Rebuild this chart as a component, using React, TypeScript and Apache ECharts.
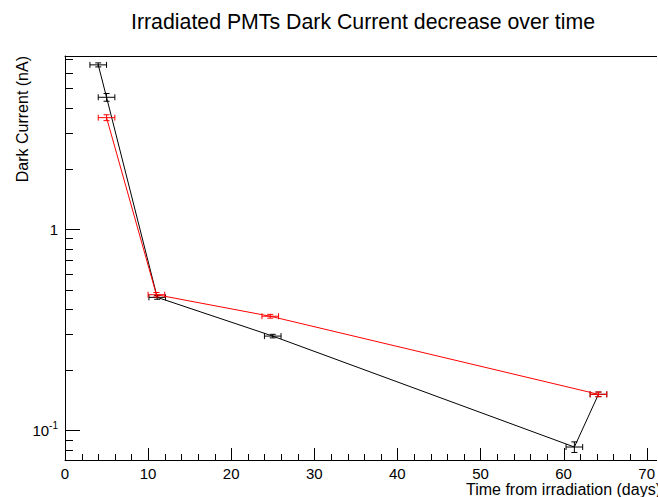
import React, { useEffect, useRef } from "react";
import * as echarts from "echarts";

// ---- data ----
const chartTitle = "Irradiated PMTs Dark Current decrease over time";
const xTitle = "Time from irradiation (days)";
const yTitle = "Dark Current (nA)";

// black series: [day, nA]
const blackX = [4.0, 5.0, 11.1, 25.0, 61.3, 64.2];
const blackY = [6.55, 4.52, 0.458, 0.294, 0.0826, 0.151];
const blackXErr = [1.0, 1.0, 1.0, 1.0, 1.0, 1.0];
const blackYErr = [0.15, 0.2, 0.01, 0.006, 0.005, 0.004];

// red series
const redX = [5.0, 11.0, 24.7, 64.2];
const redY = [3.58, 0.472, 0.369, 0.151];
const redXErr = [1.0, 1.0, 1.0, 1.0];
const redYErr = [0.12, 0.012, 0.008, 0.004];

// axes
const xMin = 0;
const xMax = 71.2;
const xMajorTicks = [0, 10, 20, 30, 40, 50, 60, 70];
const xMinorTicks = [2, 4, 6, 8, 12, 14, 16, 18, 22, 24, 26, 28, 32, 34, 36, 38, 42, 44, 46, 48, 52, 54, 56, 58, 62, 64, 66, 68];
const yMin = 0.0712;
const yMax = 7.25;
const yMajorTicks = [0.1, 1];
const yMinorTicks = [0.08, 0.09, 0.2, 0.3, 0.4, 0.5, 0.6, 0.7, 0.8, 0.9, 2, 3, 4, 5, 6, 7];

const FONT = "Liberation Sans, Arial, Helvetica, sans-serif";

function errorBars(color: string, xs: number[], ys: number[], xe: number[], ye: number[], z: number) {
  return {
    type: "custom",
    xAxisIndex: 0,
    yAxisIndex: 0,
    z,
    silent: true,
    clip: false,
    data: xs.map((x, i) => [x, ys[i], xe[i], ye[i]]),
    encode: { x: 0, y: 1 },
    renderItem: (params: any, api: any) => {
      const x = api.value(0);
      const y = api.value(1);
      const ex = api.value(2);
      const ey = api.value(3);
      const l = api.coord([x - ex, y]);
      const r = api.coord([x + ex, y]);
      const t = api.coord([x, y + ey]);
      const b = api.coord([x, y - ey]);
      const cap = 3;
      const st = { stroke: color, lineWidth: 1 };
      return {
        type: "group",
        children: [
          { type: "line", shape: { x1: l[0], y1: l[1], x2: r[0], y2: r[1] }, style: st },
          { type: "line", shape: { x1: l[0], y1: l[1] - cap, x2: l[0], y2: l[1] + cap }, style: st },
          { type: "line", shape: { x1: r[0], y1: r[1] - cap, x2: r[0], y2: r[1] + cap }, style: st },
          { type: "line", shape: { x1: t[0], y1: t[1], x2: b[0], y2: b[1] }, style: st },
          { type: "line", shape: { x1: t[0] - cap, y1: t[1], x2: t[0] + cap, y2: t[1] }, style: st },
          { type: "line", shape: { x1: b[0] - cap, y1: b[1], x2: b[0] + cap, y2: b[1] }, style: st },
        ],
      };
    },
  };
}

// inward ticks (ROOT style), placed through the axes' own scales
function tickSeries(dir: "x" | "y", values: number[], len: number) {
  return {
    type: "custom",
    xAxisIndex: 0,
    yAxisIndex: 0,
    z: 10,
    silent: true,
    clip: false,
    data: values.map((v) => (dir === "x" ? [v, yMin, len] : [xMin, v, len])),
    encode: { x: 0, y: 1 },
    renderItem: (params: any, api: any) => {
      const x = api.value(0);
      const y = api.value(1);
      const L = api.value(2);
      const p = api.coord([x, y]);
      const st = { stroke: "#000", lineWidth: 1 };
      const px = Math.round(p[0]) + 0.5;
      const py = Math.round(p[1]) + 0.5;
      const shape =
        dir === "x"
          ? { x1: px, y1: p[1], x2: px, y2: p[1] - L }
          : { x1: p[0], y1: py, x2: p[0] + L, y2: py };
      return { type: "group", children: [{ type: "line", shape, style: st }] };
    },
  };
}

export default function App() {
  const ref = useRef<HTMLDivElement>(null);
  useEffect(() => {
    if (!ref.current) return;
    const chart = echarts.init(ref.current, null, { renderer: "svg" });
    const option: any = {
      animation: false,
      backgroundColor: "#ffffff",
      textStyle: { fontFamily: FONT },
      grid: {
        left: 65,
        right: -2,
        top: 56,
        bottom: 37,
        show: false,
        containLabel: false,
      },
      xAxis: [
        {
          type: "value",
          min: xMin,
          max: xMax,
          axisLine: { show: true, onZero: false, lineStyle: { color: "#000", width: 1 } },
          axisTick: { show: false },
          axisLabel: {
            show: true,
            customValues: xMajorTicks,
            fontFamily: FONT,
            fontSize: 15,
            color: "#000",
            margin: 6,
          },
          splitLine: { show: false },
        },
        {
          type: "value",
          min: xMin,
          max: xMax,
          position: "top",
          axisLine: { show: true, onZero: false, lineStyle: { color: "#000", width: 1 } },
          axisTick: { show: false },
          axisLabel: { show: false },
          splitLine: { show: false },
        },
      ],
      yAxis: [
        {
          type: "log",
          logBase: 10,
          min: yMin,
          max: yMax,
          axisLine: { show: true, onZero: false, lineStyle: { color: "#000", width: 1 } },
          axisTick: { show: false },
          axisLabel: {
            show: true,
            showMinLabel: false,
            showMaxLabel: false,
            margin: 7,
            fontFamily: FONT,
            fontSize: 15,
            color: "#000",
            formatter: (v: number) => {
              if (Math.abs(v - 1) < 1e-6) return "1";
              if (Math.abs(v - 0.1) < 1e-6) return "10{sup|-1}";
              return "";
            },
            rich: {
              sup: { fontSize: 10, fontFamily: FONT, color: "#000", padding: [0, 0, 10, 0] },
            },
          },
          splitLine: { show: false },
        },
      ],
      graphic: [
        {
          type: "text",
          x: 363,
          y: 22,
          style: {
            text: chartTitle,
            fontFamily: FONT,
            fontSize: 21.3,
            fill: "#000",
            align: "center",
            verticalAlign: "middle",
          },
        },
        {
          type: "text",
          x: 22,
          y: 56,
          rotation: Math.PI / 2,
          style: {
            text: yTitle,
            fontFamily: FONT,
            fontSize: 16,
            fill: "#000",
            align: "right",
            verticalAlign: "middle",
          },
        },
        {
          type: "text",
          x: 661,
          y: 489,
          style: {
            text: xTitle,
            fontFamily: FONT,
            fontSize: 16,
            fill: "#000",
            align: "right",
            verticalAlign: "middle",
          },
        },
      ],
      series: [
        {
          type: "line",
          xAxisIndex: 0,
          yAxisIndex: 0,
          data: blackX.map((x, i) => [x, blackY[i]]),
          symbol: "none",
          lineStyle: { color: "#000", width: 1 },
          z: 2,
        },
        errorBars("#000", blackX, blackY, blackXErr, blackYErr, 3),
        {
          type: "line",
          xAxisIndex: 0,
          yAxisIndex: 0,
          data: redX.map((x, i) => [x, redY[i]]),
          symbol: "none",
          lineStyle: { color: "#ff0000", width: 1 },
          z: 4,
        },
        errorBars("#ff0000", redX, redY, redXErr, redYErr, 5),
        tickSeries("x", xMajorTicks, 12),
        tickSeries("x", xMinorTicks, 6),
        tickSeries("y", yMajorTicks, 15),
        tickSeries("y", yMinorTicks, 8),
      ],
    };
    chart.setOption(option);
    return () => chart.dispose();
  }, []);
  return (
    <div
      ref={ref}
      style={{ position: "fixed", left: 0, top: 0, width: 658, height: 497 }}
    />
  );
}
